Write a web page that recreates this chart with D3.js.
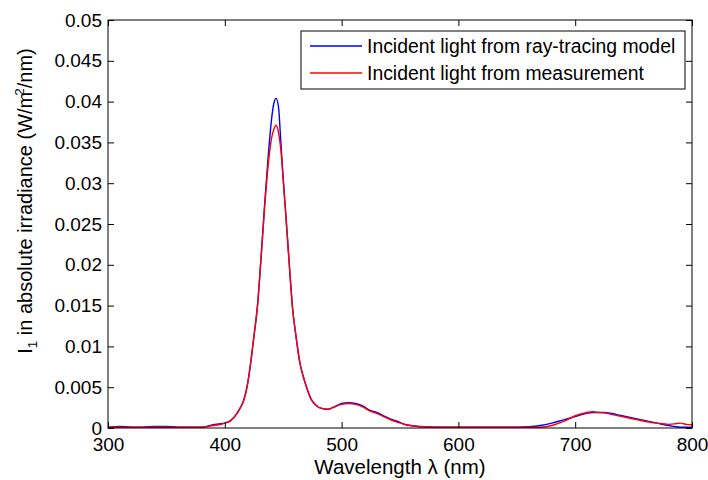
<!DOCTYPE html>
<html>
<head>
<meta charset="utf-8">
<script src="https://cdn.jsdelivr.net/npm/d3@7"></script>
<style>
  body { margin: 0; background: #fff; }
  text { font-family: "Liberation Sans", Arial, sans-serif; fill: #000; }
</style>
</head>
<body>
<div id="chart"></div>
<script>
// Wavelength samples (nm)
const wavelengths = [300, 310, 320, 330, 340, 350, 360, 370, 380, 390, 395, 400, 405, 410, 413, 416, 419, 422, 425, 428,
  431, 434, 437, 440, 442, 444, 446, 448, 450, 452, 455, 458, 461, 464, 467, 470, 474, 478, 483, 488,
  494, 500, 506, 512, 518, 524, 530, 536, 542, 548, 555, 562, 570, 580, 600, 620, 640, 650, 660, 670,
  680, 690, 700, 710, 715, 720, 725, 730, 740, 750, 760, 770, 780, 785, 790, 795, 800];

// Incident light from ray-tracing model
const modelValues = [0.0001, 0.0002, 0.0001, 0.0001, 0.0002, 0.0002, 0.0001, 0.0001, 0.0001, 0.0004, 0.0005, 0.0006, 0.0009, 0.0017, 0.0024, 0.0033, 0.0050, 0.0078, 0.0113, 0.0150,
  0.0208, 0.0272, 0.0330, 0.0378, 0.0398, 0.0404, 0.0393, 0.0350, 0.0305, 0.0266, 0.0205, 0.0147, 0.0112, 0.0082, 0.0064, 0.0050, 0.0035, 0.0028, 0.0024, 0.0023,
  0.0026, 0.0030, 0.0031, 0.0030, 0.0027, 0.0022, 0.0019, 0.0015, 0.0011, 0.0008, 0.0004, 0.00025, 0.00015, 0.0001, 0.0001, 0.0001, 0.0001, 0.0001, 0.00015, 0.0003,
  0.0006, 0.0010, 0.0014, 0.0018, 0.0019, 0.0019, 0.0019, 0.0018, 0.0015, 0.0012, 0.0009, 0.0006, 0.0003, 0.0002, 0.0001, 0.0001, 0.0001];

// Incident light from measurement
const measuredValues = [0.0001, 0.0001, 0.0001, 0.0001, 0.0001, 0.0001, 0.0001, 0.0001, 0.0001, 0.0003, 0.0004, 0.0006, 0.0009, 0.0017, 0.0024, 0.0033, 0.0050, 0.0078, 0.0113, 0.0150,
  0.0207, 0.0268, 0.0320, 0.0355, 0.0366, 0.0371, 0.0362, 0.0341, 0.0305, 0.0266, 0.0205, 0.0147, 0.0112, 0.0082, 0.0064, 0.0050, 0.0035, 0.0028, 0.0024, 0.0023,
  0.0026, 0.0029, 0.0030, 0.0029, 0.0026, 0.0021, 0.0018, 0.0014, 0.0010, 0.0007, 0.0004, 0.00025, 0.00015, 0.0001, 0.0001, 0.0001, 0.0001, 0.0001, 0.0001, 0.0001,
  0.0003, 0.0008, 0.0015, 0.0019, 0.0020, 0.0019, 0.00185, 0.0017, 0.0014, 0.0011, 0.0008, 0.0006, 0.00045, 0.0005, 0.0006, 0.00045, 0.0004];

const xTicks = [300, 400, 500, 600, 700, 800];
const yTicks = [0, 0.005, 0.01, 0.015, 0.02, 0.025, 0.03, 0.035, 0.04, 0.045, 0.05];
const yTickLabels = ['0', '0.005', '0.01', '0.015', '0.02', '0.025', '0.03', '0.035', '0.04', '0.045', '0.05'];
const seriesNames = ['Incident light from ray-tracing model', 'Incident light from measurement'];
const seriesColors = ['#0000ff', '#ff0000'];

const width = 708;
const height = 480;
const margin = { left: 108, right: 16, top: 20, bottom: 52 };
const tickFont = 19;
const labelFont = 20.5;
const legendFont = 19.4;
const tickLen = 6;

const svg = d3.select('#chart').append('svg')
  .attr('width', width)
  .attr('height', height);

const x = d3.scaleLinear()
  .domain([300, 800])
  .range([margin.left, width - margin.right]);

const y = d3.scaleLinear()
  .domain([0, 0.05])
  .range([height - margin.bottom, margin.top]);

// Series
const line = d3.line()
  .x(d => x(d[0]))
  .y(d => y(d[1]))
  .curve(d3.curveMonotoneX);

const series = [modelValues, measuredValues];
series.forEach((vals, i) => {
  svg.append('path')
    .datum(wavelengths.map((w, j) => [w, vals[j]]))
    .attr('fill', 'none')
    .attr('stroke', seriesColors[i])
    .attr('stroke-width', 1.4)
    .attr('d', line);
});

// Axes (ticks pointing inward, MATLAB style)
svg.append('g')
  .attr('transform', `translate(0,${y(0)})`)
  .call(d3.axisBottom(x).tickValues(xTicks).tickSizeInner(-tickLen).tickSizeOuter(0).tickPadding(10));

svg.append('g')
  .attr('transform', `translate(${x(300)},0)`)
  .call(d3.axisLeft(y).tickValues(yTicks).tickSizeInner(-tickLen).tickSizeOuter(0).tickPadding(6)
    .tickFormat((d, i) => yTickLabels[i]));

// Top and right ticks
svg.append('g')
  .attr('transform', `translate(0,${y(0.05)})`)
  .call(d3.axisTop(x).tickValues(xTicks).tickSizeInner(-tickLen).tickSizeOuter(0).tickFormat(''));
svg.append('g')
  .attr('transform', `translate(${x(800)},0)`)
  .call(d3.axisRight(y).tickValues(yTicks).tickSizeInner(-tickLen).tickSizeOuter(0).tickFormat(''));

svg.selectAll('.domain').remove();
svg.selectAll('.tick line').attr('stroke', '#000');
svg.selectAll('.tick text')
  .style('font-family', '"Liberation Sans", Arial, sans-serif')
  .style('font-size', tickFont + 'px')
  .attr('fill', '#000');

// Axes box
svg.append('rect')
  .attr('x', x(300))
  .attr('y', y(0.05))
  .attr('width', x(800) - x(300))
  .attr('height', y(0) - y(0.05))
  .attr('fill', 'none')
  .attr('stroke', '#000')
  .attr('stroke-width', 1);

// Axis labels
svg.append('text')
  .attr('x', (x(300) + x(800)) / 2)
  .attr('y', 474)
  .attr('text-anchor', 'middle')
  .style('font-size', labelFont + 'px')
  .text('Wavelength λ (nm)');

const yLabel = svg.append('text')
  .attr('transform', `translate(32,201) rotate(-90)`)
  .attr('text-anchor', 'middle')
  .style('font-size', '20px');
yLabel.append('tspan').text('I');
yLabel.append('tspan').attr('dy', 5).style('font-size', '13.5px').text('1');
yLabel.append('tspan').attr('dy', -5).text(' in absolute irradiance (W/m');
yLabel.append('tspan').attr('dy', -8).attr('dx', -4).style('font-size', '13.5px').text('2');
yLabel.append('tspan').attr('dy', 8).text('/nm)');

// Legend
const legend = svg.append('g');
legend.append('rect')
  .attr('x', 301)
  .attr('y', 31)
  .attr('width', 384)
  .attr('height', 58)
  .attr('fill', '#fff')
  .attr('stroke', '#000')
  .attr('stroke-width', 1);

seriesNames.forEach((name, i) => {
  const ly = 46 + i * 27;
  legend.append('line')
    .attr('x1', 310).attr('x2', 362)
    .attr('y1', ly).attr('y2', ly)
    .attr('stroke', seriesColors[i])
    .attr('stroke-width', 1.4);
  legend.append('text')
    .attr('x', 367)
    .attr('y', ly + 7)
    .style('font-size', legendFont + 'px')
    .text(name);
});
</script>
</body>
</html>
